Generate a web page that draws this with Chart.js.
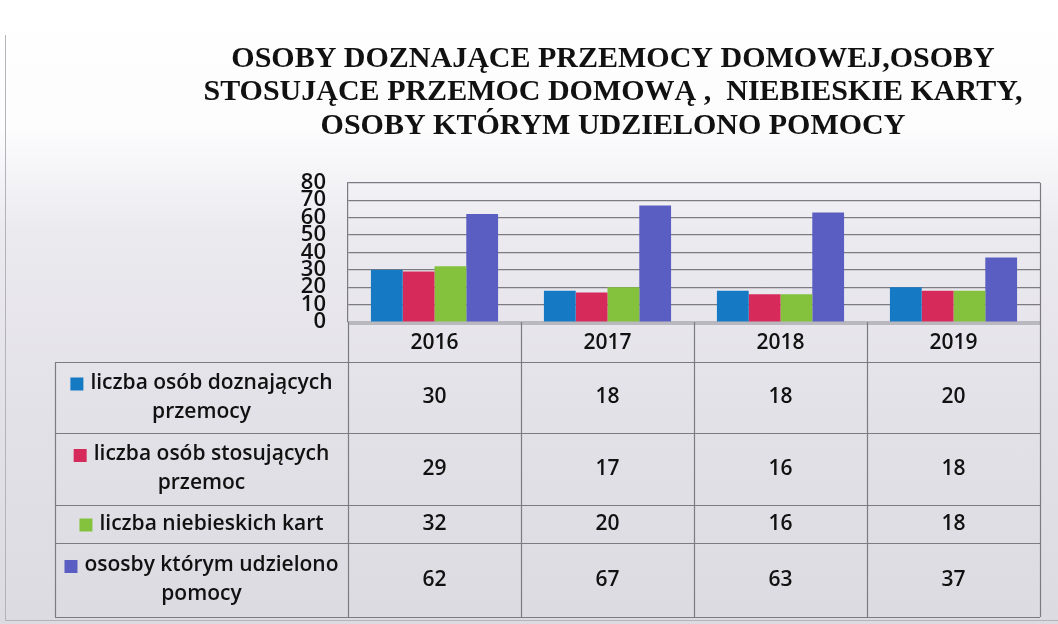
<!DOCTYPE html>
<html>
<head>
<meta charset="utf-8">
<script src="https://cdn.jsdelivr.net/npm/chart.js@4/dist/chart.umd.min.js"></script>
<style>
html,body{margin:0;padding:0;}
body{width:1058px;height:624px;overflow:hidden;
  background:linear-gradient(to bottom,#ffffff 0px,#fcfcfd 130px,#ebeaef 230px,#e3e1e8 420px,#dddbe2 624px);}
#wrap{position:relative;width:1058px;height:624px;}
canvas{display:block;}
</style>
</head>
<body>
<div id="wrap"><canvas id="c" width="1058" height="624"></canvas></div>
<script>
// ---- data ----
const titleLines = [
  'OSOBY DOZNAJĄCE PRZEMOCY DOMOWEJ,OSOBY',
  'STOSUJĄCE PRZEMOC DOMOWĄ ,  NIEBIESKIE KARTY,',
  'OSOBY KTÓRYM UDZIELONO POMOCY'
];
const categories = ['2016', '2017', '2018', '2019'];
const seriesNames = [
  'liczba osób doznających przemocy',
  'liczba osób stosujących przemoc',
  'liczba niebieskich kart',
  'ososby którym udzielono pomocy'
];
const doznajacy = [30, 18, 18, 20];
const stosujacy = [29, 17, 16, 18];
const niebieskieKarty = [32, 20, 16, 18];
const udzielonoPomocy = [62, 67, 63, 37];
const yTickValues = [0, 10, 20, 30, 40, 50, 60, 70, 80];

const seriesValues = [doznajacy, stosujacy, niebieskieKarty, udzielonoPomocy];
const seriesColors = ['#1579c4', '#d62a5a', '#84c23e', '#5a5ec2'];

const TABLE_FONT = '600 21px "Open Sans"';
const GRID = '#7c7b82';

const tablePlugin = {
  id: 'dataTable',
  beforeDatasetsDraw(chart) {
    const ctx = chart.ctx, ca = chart.chartArea;
    ctx.save();
    ctx.fillStyle = '#b9b8bf';
    ctx.fillRect(ca.left, ca.bottom - 1, ca.right - ca.left, 4);
    ctx.restore();
  },
  afterDraw(chart) {
    const ctx = chart.ctx, ca = chart.chartArea, xs = chart.scales.x;
    const n = categories.length;
    const catW = (ca.right - ca.left) / n;
    const edges = categories.map((c, i) => xs.getPixelForValue(i) - catW / 2);
    edges.push(xs.getPixelForValue(n - 1) + catW / 2);
    const legendLeft = 55;
    const headerTop = ca.bottom, headerBottom = headerTop + 40;
    const rowHeights = [71, 72, 38, 74];
    const rowEdges = [headerBottom];
    rowHeights.forEach(h => rowEdges.push(rowEdges[rowEdges.length - 1] + h));
    const bottom = rowEdges[rowEdges.length - 1];

    ctx.save();
    ctx.strokeStyle = GRID;
    ctx.lineWidth = 1.2;
    ctx.beginPath();
    ctx.moveTo(ca.right + 0.5, ca.top); ctx.lineTo(ca.right + 0.5, bottom);
    edges.slice(0, n).forEach(x => { ctx.moveTo(Math.round(x) + 0.5, headerTop); ctx.lineTo(Math.round(x) + 0.5, bottom); });
    ctx.moveTo(legendLeft + 0.5, headerBottom); ctx.lineTo(legendLeft + 0.5, bottom);
    rowEdges.forEach(y => { ctx.moveTo(legendLeft, Math.round(y) + 0.5); ctx.lineTo(ca.right, Math.round(y) + 0.5); });
    ctx.stroke();

    ctx.fillStyle = '#111';
    ctx.font = TABLE_FONT;
    ctx.textAlign = 'center';
    ctx.textBaseline = 'middle';
    categories.forEach((c, i) => ctx.fillText(c, xs.getPixelForValue(i), (headerTop + headerBottom) / 2 + 1));

    const cellCenter = (legendLeft + edges[0]) / 2;
    const maxW = edges[0] - legendLeft - 8;
    const sw = 13, gap = 7, lineH = 29;
    seriesNames.forEach((name, r) => {
      const yMid = (rowEdges[r] + rowEdges[r + 1]) / 2;
      seriesValues[r].forEach((v, i) => ctx.fillText(String(v), xs.getPixelForValue(i), yMid));
      const words = name.split(' ');
      const lines = [];
      let cur = '';
      words.forEach(w => {
        const test = cur ? cur + ' ' + w : w;
        const extra = lines.length === 0 ? sw + gap : 0;
        if (cur && ctx.measureText(test).width + extra > maxW) { lines.push(cur); cur = w; }
        else cur = test;
      });
      lines.push(cur);
      const y0 = yMid - (lines.length - 1) * lineH / 2;
      lines.forEach((ln, k) => {
        const y = y0 + k * lineH;
        const w = ctx.measureText(ln).width;
        if (k === 0) {
          const total = sw + gap + w;
          const left = cellCenter - total / 2;
          ctx.fillStyle = seriesColors[r];
          ctx.fillRect(left, y - sw / 2 + 1, sw, sw);
          ctx.fillStyle = '#111';
          ctx.textAlign = 'left';
          ctx.fillText(ln, left + sw + gap, y);
          ctx.textAlign = 'center';
        } else {
          ctx.fillText(ln, cellCenter, y);
        }
      });
    });

    ctx.strokeStyle = '#b4b2ba';
    ctx.lineWidth = 1;
    ctx.beginPath();
    ctx.moveTo(5.5, 35); ctx.lineTo(5.5, 620.5); ctx.lineTo(1058, 620.5);
    ctx.stroke();
    ctx.restore();
  }
};

new Chart(document.getElementById('c'), {
  type: 'bar',
  data: {
    labels: categories,
    datasets: seriesNames.map((name, i) => ({
      label: name,
      data: seriesValues[i],
      backgroundColor: seriesColors[i],
      borderWidth: 0,
      categoryPercentage: 0.735,
      barPercentage: 1.0
    }))
  },
  options: {
    responsive: false,
    animation: false,
    devicePixelRatio: 1,
    layout: { padding: { left: 186, right: 18, top: 0, bottom: 302 } },
    plugins: {
      legend: { display: false },
      tooltip: { enabled: false },
      title: {
        display: true,
        text: titleLines,
        color: '#111',
        font: { family: 'Liberation Serif', size: 30, weight: 'bold', lineHeight: 1.12 },
        padding: { top: 42, bottom: 40 }
      }
    },
    scales: {
      x: { display: false },
      y: {
        min: 0, max: 80,
        afterFit(scale) { scale.width = 162; },
        afterBuildTicks(scale) { scale.ticks = yTickValues.map(v => ({ value: v })); },
        ticks: {
          autoSkip: false,
          padding: 22,
          color: '#111',
          font: { family: 'Open Sans', size: 22, weight: '600' }
        },
        grid: { color: GRID, lineWidth: 1.2, drawTicks: false },
        border: { display: true, color: GRID, width: 1.2 }
      }
    }
  },
  plugins: [tablePlugin]
});
</script>
</body>
</html>
